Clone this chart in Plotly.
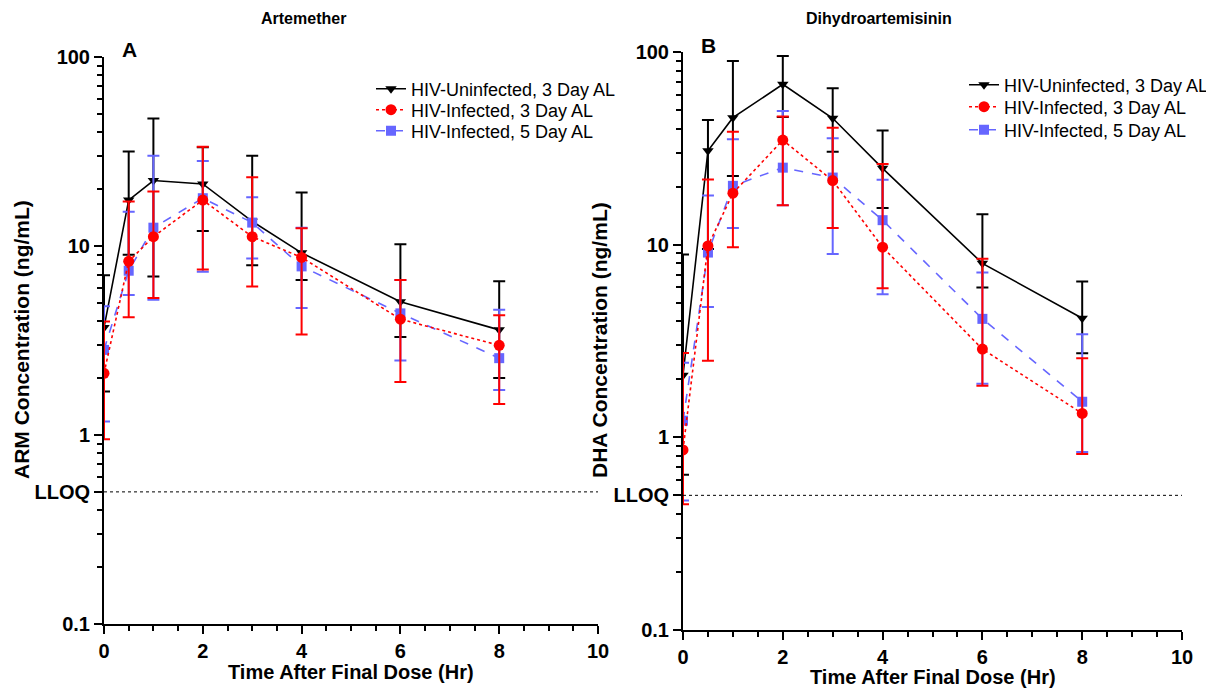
import plotly.graph_objects as go

# ---------------- data ----------------
time = [0, 0.5, 1, 2, 3, 4, 6, 8]

series_names = ["HIV-Uninfected, 3 Day AL", "HIV-Infected, 3 Day AL", "HIV-Infected, 5 Day AL"]

# Artemether (ARM), ng/mL : mean, upper bar end, lower bar end
arm_uninf = [3.7, 17.5, 22.2, 21.3, 13.5, 9.2, 5.07, 3.6]
arm_uninf_hi = [7.0, 31.6, 47.2, 33.3, 30.0, 19.2, 10.2, 6.5]
arm_uninf_lo = [1.7, 9.0, 6.9, 12.0, 7.9, 6.6, 3.3, 2.0]

arm_inf3 = [2.12, 8.3, 11.2, 17.5, 11.2, 8.7, 4.1, 2.98]
arm_inf3_hi = [3.98, 17.2, 19.4, 33.5, 23.1, 12.4, 6.6, 4.3]
arm_inf3_lo = [0.95, 4.2, 5.3, 7.5, 6.1, 3.4, 1.91, 1.46]

arm_inf5 = [2.82, 7.4, 12.5, 17.9, 13.3, 7.8, 4.4, 2.55]
arm_inf5_hi = [4.8, 15.2, 30.0, 28.2, 18.1, 12.5, 6.6, 4.6]
arm_inf5_lo = [1.18, 5.5, 5.2, 7.3, 8.6, 4.7, 2.48, 1.73]

# Dihydroartemisinin (DHA), ng/mL
dha_uninf = [2.1, 30.7, 45.6, 68.0, 45.3, 24.9, 8.0, 4.15]
dha_uninf_hi = [8.9, 44.4, 89.8, 95.4, 64.8, 39.1, 14.4, 6.43]
dha_uninf_lo = [0.64, 9.5, 22.7, 46.0, 30.4, 15.5, 6.0, 2.73]

dha_inf3 = [0.86, 9.85, 18.5, 34.9, 21.5, 9.7, 2.87, 1.33]
dha_inf3_hi = [2.74, 21.8, 38.6, 46.2, 40.5, 26.2, 8.46, 2.57]
dha_inf3_lo = [0.45, 2.5, 9.7, 16.0, 12.2, 5.94, 1.85, 0.82]

dha_inf5 = [1.22, 9.1, 20.2, 25.1, 22.3, 13.4, 4.12, 1.53]
dha_inf5_hi = [2.44, 18.0, 35.2, 49.4, 35.7, 21.7, 7.16, 3.43]
dha_inf5_lo = [0.47, 4.75, 12.2, 16.0, 8.95, 5.53, 1.9, 0.84]

lloq = 0.5
y_major_vals = [0.1, 0.5, 1, 10, 100]
y_major_text = ["0.1", "LLOQ", "1", "10", "100"]
y_minor_vals = [0.2, 0.3, 0.4, 0.5, 0.6, 0.7, 0.8, 0.9,
                2, 3, 4, 5, 6, 7, 8, 9,
                20, 30, 40, 50, 60, 70, 80, 90]
x_major_vals = [0, 2, 4, 6, 8, 10]

# ---------------- styling ----------------
FONT = "Arial, 'Liberation Sans', sans-serif"
W, H = 1214, 694
OFF = 8  # page body margin: screen px = figure px + OFF
styles = [
    dict(color="#000000", symbol="triangle-down", size=10, dash="solid"),
    dict(color="#FF0000", symbol="circle", size=11, dash="dot"),
    dict(color="#6666FF", symbol="square", size=10, dash="dash"),
]
draw_order = [0, 2, 1]  # red drawn on top, as in the reference


def fx(px):
    return (px - OFF) / W


def fy(py):
    return 1 - (py - OFF) / H


fig = go.Figure()


def add_panel(xa, ya, legends, sets):
    for i in draw_order:
        m, hi, lo = sets[i]
        st = styles[i]
        fig.add_trace(go.Scatter(
            x=time, y=m, name=series_names[i], mode="lines+markers",
            xaxis=xa, yaxis=ya, legend=legends[i],
            line=dict(color=st["color"], width=1.6, dash=st["dash"]),
            marker=dict(color=st["color"], symbol=st["symbol"], size=st["size"]),
            error_y=dict(type="data", symmetric=False,
                         array=[h - v for h, v in zip(hi, m)],
                         arrayminus=[v - l for v, l in zip(m, lo)],
                         color=st["color"], thickness=2, width=6),
        ))
    fig.add_trace(go.Scatter(
        x=[0, 10], y=[lloq, lloq], mode="lines", xaxis=xa, yaxis=ya,
        showlegend=False, hoverinfo="skip",
        line=dict(color="black", width=1, dash="dot")))


add_panel("x", "y", ["legend", "legend2", "legend3"],
          [(arm_uninf, arm_uninf_hi, arm_uninf_lo),
           (arm_inf3, arm_inf3_hi, arm_inf3_lo),
           (arm_inf5, arm_inf5_hi, arm_inf5_lo)])
add_panel("x2", "y2", ["legend4", "legend5", "legend6"],
          [(dha_uninf, dha_uninf_hi, dha_uninf_lo),
           (dha_inf3, dha_inf3_hi, dha_inf3_lo),
           (dha_inf5, dha_inf5_hi, dha_inf5_lo)])

# panel geometry in screen pixels
L = dict(x0=104, x1=598, ytop=57, ybot=624)
R = dict(x0=683, x1=1182, ytop=52, ybot=630)


def xdom(p):
    return [fx(p["x0"]), fx(p["x1"])]


def ydom(p):
    return [fy(p["ybot"]), fy(p["ytop"])]


tickfont = dict(family=FONT, size=20, color="black", weight="bold")


def xaxis(p, anchor):
    return dict(domain=xdom(p), anchor=anchor, range=[0, 10], automargin=False,
                tickmode="array", tickvals=x_major_vals,
                ticks="outside", ticklen=8, tickwidth=2, tickcolor="black",
                showline=True, linewidth=2, linecolor="black",
                showgrid=False, zeroline=False, tickfont=tickfont,
                minor=dict(dtick=0.5, tick0=0, ticks="outside", ticklen=5,
                           tickwidth=2, tickcolor="black", showgrid=False))


def yaxis(p, anchor):
    return dict(domain=ydom(p), anchor=anchor, type="log", range=[-1, 2], automargin=False,
                tickmode="array", tickvals=y_major_vals, ticktext=y_major_text,
                ticks="outside", ticklen=8, tickwidth=2, tickcolor="black",
                showline=True, linewidth=2, linecolor="black",
                showgrid=False, zeroline=False, tickfont=tickfont,
                minor=dict(tickmode="array", tickvals=y_minor_vals, ticks="outside",
                           ticklen=5, tickwidth=2, tickcolor="black", showgrid=False))


legend_font = dict(family=FONT, size=18, color="black")


def leg(xs, ys):
    return dict(x=fx(xs), y=fy(ys), xanchor="left", yanchor="middle",
                font=legend_font, bgcolor="rgba(0,0,0,0)", itemwidth=30)


fig.update_layout(
    width=W, height=H, margin=dict(l=0, r=0, t=0, b=0, autoexpand=False),
    paper_bgcolor="white", plot_bgcolor="white",
    xaxis=xaxis(L, "y"), yaxis=yaxis(L, "x"),
    xaxis2=xaxis(R, "y2"), yaxis2=yaxis(R, "x2"),
    legend=leg(371, 89), legend2=leg(371, 110), legend3=leg(371, 131),
    legend4=leg(964, 85), legend5=leg(964, 107), legend6=leg(964, 130),
    showlegend=True,
)

bold = lambda s: dict(family=FONT, size=s, color="black", weight="bold")
ann = [
    dict(text="Artemether", x=fx(303), y=fy(18), font=bold(16)),
    dict(text="Dihydroartemisinin", x=fx(879), y=fy(18), font=bold(16)),
    dict(text="A", x=fx(129), y=fy(50), font=bold(21)),
    dict(text="B", x=fx(708), y=fy(46), font=bold(21)),
    dict(text="Time After Final Dose (Hr)", x=fx(351), y=fy(672), font=bold(20)),
    dict(text="Time After Final Dose (Hr)", x=fx(933), y=fy(677), font=bold(20)),
    dict(text="ARM Concentration (ng/mL)", x=fx(22), y=fy(340), font=bold(21), textangle=-90),
    dict(text="DHA Concentration (ng/mL)", x=fx(600), y=fy(340), font=bold(21), textangle=-90),
]
for a in ann:
    a.update(xref="paper", yref="paper", showarrow=False, xanchor="center", yanchor="middle")
    fig.add_annotation(**a)

fig.write_html("out.html")
